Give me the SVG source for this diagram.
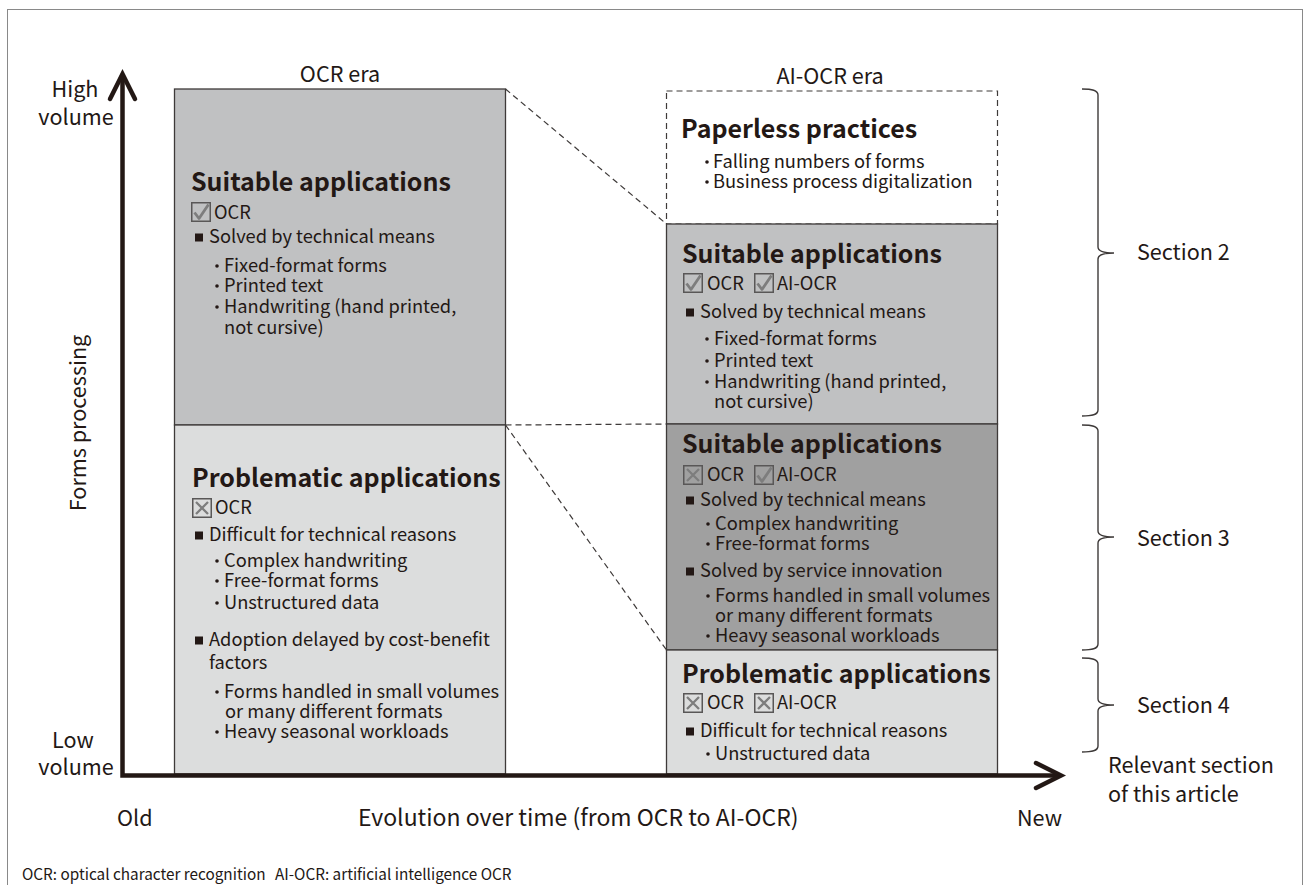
<svg xmlns="http://www.w3.org/2000/svg" width="1309" height="885" viewBox="0 0 1309 885">
  <style>
    text { font-family: "Noto Sans CJK JP", "Noto Sans", "Liberation Sans", sans-serif; fill: #231815; }
    .lab { font-size: 21.6px; }
    .xlab { font-size: 23px; }
    .ttl { font-size: 25px; font-weight: 700; }
    .body { font-size: 18.3px; }
    .note { font-size: 15.3px; }
    .box { stroke: #3e3a39; stroke-width: 1.3; }
    .mid { fill: #c0c1c2; }
    .light { fill: #dcdddd; }
    .dark { fill: #a0a0a0; }
    .dash { fill: none; stroke: #3e3a39; stroke-width: 1.2; stroke-dasharray: 6 4; }
    .axis { fill: none; stroke: #231815; stroke-width: 4.5; }
    .brace { fill: none; stroke: #3e3a39; stroke-width: 1.4; }
    .sq { fill: #231815; }
    .dot { fill: #231815; }
  </style>
  <defs>
    <g id="chk">
      <rect x="0.75" y="0.75" width="18.5" height="18.5" fill="none" stroke="#595757" stroke-width="1.5"/>
      <path d="M3.5 10.5 L8 16.5 L17.5 2.5" fill="none" stroke="#7d7d7d" stroke-width="2.8" stroke-linejoin="round"/>
    </g>
    <g id="xbx">
      <rect x="0.75" y="0.75" width="18.5" height="18.5" fill="none" stroke="#595757" stroke-width="1.5"/>
      <path d="M4 4 L16 16 M16 4 L4 16" fill="none" stroke="#7d7d7d" stroke-width="2.3"/>
    </g>
  </defs>

  <!-- outer frame -->
  <rect x="7.5" y="9.5" width="1295" height="900" fill="none" stroke="#898989" stroke-width="1"/>

  <!-- column headings -->
  <text class="lab" x="340" y="82" text-anchor="middle">OCR era</text>
  <text class="lab" x="830" y="84" text-anchor="middle">AI-OCR era</text>

  <!-- left column: OCR era, upper -->
  <g id="ocr-suitable">
    <rect class="box mid" x="174.5" y="89" width="331" height="336"/>
    <text class="ttl" x="191" y="191">Suitable applications</text>
    <use href="#chk" x="191" y="202"/>
    <text class="body" x="214" y="219">OCR</text>
    <rect class="sq" x="195" y="233.5" width="8" height="8"/>
    <text class="body" x="209" y="243">Solved by technical means</text>
    <circle class="dot" cx="217" cy="266" r="1.8"/>
    <text class="body" x="224" y="272">Fixed-format forms</text>
    <circle class="dot" cx="217" cy="286" r="1.8"/>
    <text class="body" x="224" y="292">Printed text</text>
    <circle class="dot" cx="217" cy="307" r="1.8"/>
    <text class="body" x="224" y="313">Handwriting (hand printed,</text>
    <text class="body" x="224" y="334">not cursive)</text>
  </g>

  <!-- left column: OCR era, lower -->
  <g id="ocr-problematic">
    <rect class="box light" x="174.5" y="425" width="331" height="349"/>
    <text class="ttl" x="192" y="487">Problematic applications</text>
    <use href="#xbx" x="192" y="498"/>
    <text class="body" x="215" y="514">OCR</text>
    <rect class="sq" x="195" y="531.5" width="8" height="8"/>
    <text class="body" x="209" y="541">Difficult for technical reasons</text>
    <circle class="dot" cx="217" cy="561" r="1.8"/>
    <text class="body" x="224" y="567">Complex handwriting</text>
    <circle class="dot" cx="217" cy="581" r="1.8"/>
    <text class="body" x="224" y="587">Free-format forms</text>
    <circle class="dot" cx="217" cy="603" r="1.8"/>
    <text class="body" x="224" y="609">Unstructured data</text>
    <rect class="sq" x="195" y="636.5" width="8" height="8"/>
    <text class="body" x="209" y="646">Adoption delayed by cost-benefit</text>
    <text class="body" x="209" y="669">factors</text>
    <circle class="dot" cx="217" cy="692" r="1.8"/>
    <text class="body" x="224" y="698">Forms handled in small volumes</text>
    <text class="body" x="225" y="718">or many different formats</text>
    <circle class="dot" cx="217" cy="732" r="1.8"/>
    <text class="body" x="224" y="738">Heavy seasonal workloads</text>
  </g>

  <!-- right column: AI-OCR era -->
  <g id="paperless">
    <rect class="dash" x="666.5" y="91" width="331" height="133"/>
    <text class="ttl" x="681" y="138">Paperless practices</text>
    <circle class="dot" cx="707" cy="162" r="1.8"/>
    <text class="body" x="713" y="168">Falling numbers of forms</text>
    <circle class="dot" cx="707" cy="182" r="1.8"/>
    <text class="body" x="713" y="188">Business process digitalization</text>
  </g>

  <g id="aiocr-suitable-1">
    <rect class="box mid" x="666.5" y="224" width="331" height="200"/>
    <text class="ttl" x="682" y="263">Suitable applications</text>
    <use href="#chk" x="683" y="273"/>
    <text class="body" x="707" y="290">OCR</text>
    <use href="#chk" x="754" y="273"/>
    <text class="body" x="777" y="290">AI-OCR</text>
    <rect class="sq" x="686" y="308.5" width="8" height="8"/>
    <text class="body" x="700" y="318">Solved by technical means</text>
    <circle class="dot" cx="707" cy="339" r="1.8"/>
    <text class="body" x="714" y="345">Fixed-format forms</text>
    <circle class="dot" cx="707" cy="361" r="1.8"/>
    <text class="body" x="714" y="367">Printed text</text>
    <circle class="dot" cx="707" cy="382" r="1.8"/>
    <text class="body" x="714" y="388">Handwriting (hand printed,</text>
    <text class="body" x="714" y="408">not cursive)</text>
  </g>

  <g id="aiocr-suitable-2">
    <rect class="box dark" x="666.5" y="424" width="331" height="226"/>
    <text class="ttl" x="682" y="453">Suitable applications</text>
    <use href="#xbx" x="683" y="465"/>
    <text class="body" x="707" y="481">OCR</text>
    <use href="#chk" x="754" y="465"/>
    <text class="body" x="777" y="481">AI-OCR</text>
    <rect class="sq" x="686" y="496.5" width="8" height="8"/>
    <text class="body" x="700" y="506">Solved by technical means</text>
    <circle class="dot" cx="708" cy="524" r="1.8"/>
    <text class="body" x="715" y="530">Complex handwriting</text>
    <circle class="dot" cx="708" cy="544" r="1.8"/>
    <text class="body" x="715" y="550">Free-format forms</text>
    <rect class="sq" x="686" y="567.5" width="8" height="8"/>
    <text class="body" x="700" y="577">Solved by service innovation</text>
    <circle class="dot" cx="708" cy="596" r="1.8"/>
    <text class="body" x="715" y="602">Forms handled in small volumes</text>
    <text class="body" x="715" y="622">or many different formats</text>
    <circle class="dot" cx="708" cy="636" r="1.8"/>
    <text class="body" x="715" y="642">Heavy seasonal workloads</text>
  </g>

  <g id="aiocr-problematic">
    <rect class="box light" x="666.5" y="650" width="331" height="124"/>
    <text class="ttl" x="682" y="683">Problematic applications</text>
    <use href="#xbx" x="683" y="693"/>
    <text class="body" x="707" y="709">OCR</text>
    <use href="#xbx" x="754" y="693"/>
    <text class="body" x="777" y="709">AI-OCR</text>
    <rect class="sq" x="686" y="727.5" width="8" height="8"/>
    <text class="body" x="700" y="737">Difficult for technical reasons</text>
    <circle class="dot" cx="708" cy="754" r="1.8"/>
    <text class="body" x="715" y="760">Unstructured data</text>
  </g>

  <!-- dashed guides between the eras -->
  <g id="connectors">
    <line class="dash" x1="505.5" y1="89" x2="666.5" y2="224"/>
    <line class="dash" x1="505.5" y1="425" x2="666.5" y2="424"/>
    <line class="dash" x1="505.5" y1="425" x2="666.5" y2="650"/>
  </g>

  <!-- axes -->
  <g id="axes">
    <path class="axis" d="M122.5 76 V777.75 M120.25 775.5 H1059"/>
    <path class="axis" d="M110 99 L122.5 74 L135 99" stroke-linecap="round"/>
    <path class="axis" d="M1036 763 L1061 775.5 L1036 788" stroke-linecap="round"/>
    <text class="lab" x="75" y="97" text-anchor="middle">High</text>
    <text class="lab" x="76" y="125" text-anchor="middle">volume</text>
    <text class="lab" x="73" y="748" text-anchor="middle">Low</text>
    <text class="lab" x="76" y="775" text-anchor="middle">volume</text>
    <text class="lab" x="86" y="423" text-anchor="middle" transform="rotate(-90 86 423)">Forms processing</text>
    <text class="lab" x="117" y="826">Old</text>
    <text class="xlab" x="358" y="826">Evolution over time (from OCR to AI-OCR)</text>
    <text class="lab" x="1017" y="826">New</text>
  </g>

  <!-- section braces -->
  <g id="section-2">
    <path class="brace" d="M1082 89 C1092 89 1098 90 1098 95 L1098 247 C1098 251 1104 253 1114 253 C1104 253 1098 255 1098 259 L1098 410 C1098 415 1092 416 1082 416"/>
    <text class="lab" x="1137" y="260">Section 2</text>
  </g>
  <g id="section-3">
    <path class="brace" d="M1082 425 C1092 425 1098 426 1098 431 L1098 531 C1098 535 1104 537 1114 537 C1104 537 1098 539 1098 543 L1098 644 C1098 649 1092 650 1082 650"/>
    <text class="lab" x="1137" y="546">Section 3</text>
  </g>
  <g id="section-4">
    <path class="brace" d="M1082 658 C1092 658 1098 659 1098 664 L1098 699 C1098 703 1104 705 1114 705 C1104 705 1098 707 1098 711 L1098 746 C1098 751 1092 752 1082 752"/>
    <text class="lab" x="1137" y="713">Section 4</text>
  </g>
  <text class="lab" x="1108" y="773">Relevant section</text>
  <text class="lab" x="1108" y="802">of this article</text>

  <!-- footnote -->
  <text class="note" x="22" y="880">OCR: optical character recognition</text>
  <text class="note" x="275" y="880">AI-OCR: artificial intelligence OCR</text>
</svg>
